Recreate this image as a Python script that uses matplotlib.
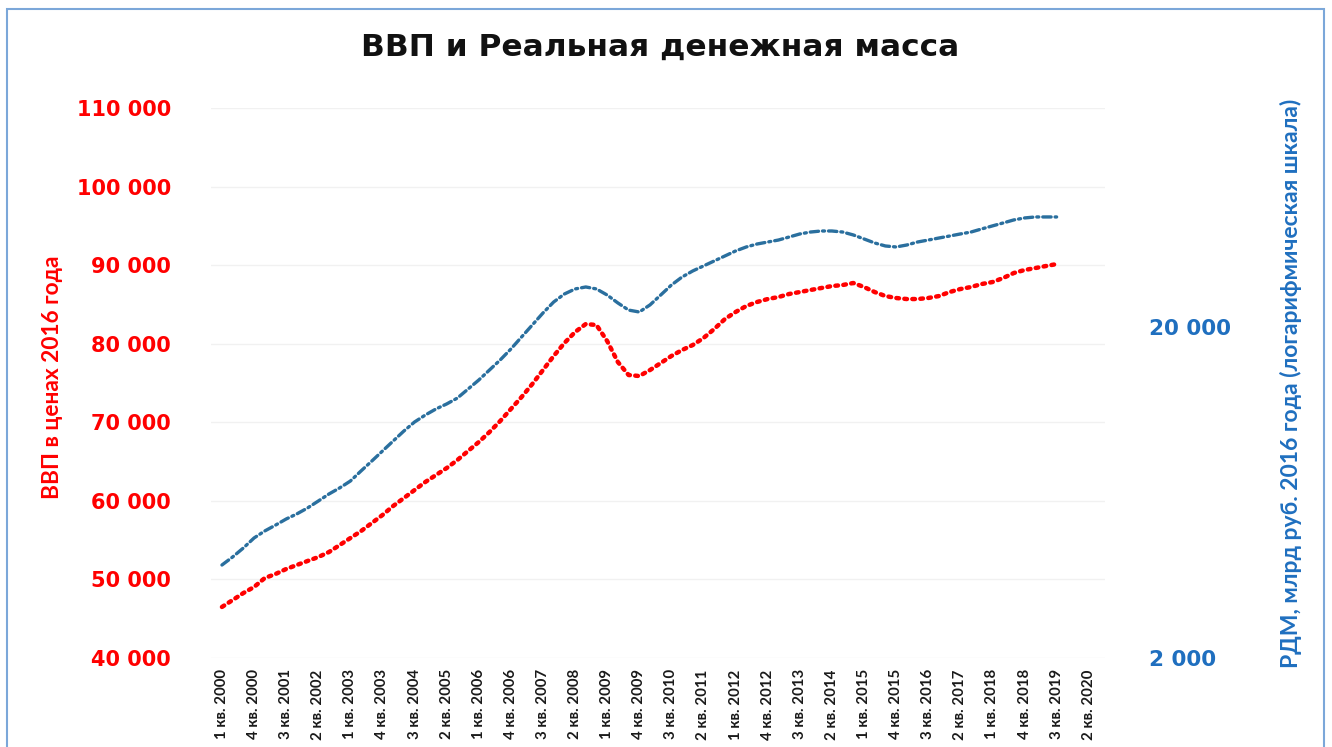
import numpy as np
import matplotlib.pyplot as plt
from matplotlib.patches import Rectangle
from matplotlib.ticker import FixedLocator, FuncFormatter, NullLocator

# Кварталы: 1 кв. 2000 ... 2 кв. 2020
quarters = [f"{q} кв. {y}" for y in range(2000, 2021) for q in range(1, 5)][:82]

# ВВП в ценах 2016 года, 1 кв. 2000 - 3 кв. 2019
gdp = [46500, 47380, 48270, 49040, 50180, 50690, 51330, 51840, 52350, 52850,
       53490, 54380, 55270, 56160, 57180, 58200, 59350, 60360, 61380, 62400,
       63290, 64180, 65200, 66350, 67490, 68760, 70160, 71690, 73220, 74870,
       76650, 78440, 80090, 81490, 82510, 82380, 80340, 77670, 76020, 75890,
       76650, 77540, 78440, 79200, 79840, 80730, 81870, 83140, 84040, 84800,
       85310, 85690, 85940, 86330, 86580, 86840, 87090, 87340, 87470, 87730,
       87220, 86580, 86070, 85820, 85690, 85690, 85820, 86070, 86580, 86960,
       87220, 87600, 87850, 88360, 89000, 89380, 89630, 89890, 90140]

# Реальная денежная масса, млрд руб. 2016 года
rdm = [3820, 4040, 4300, 4610, 4840, 5040, 5260, 5450, 5680, 5960,
       6260, 6530, 6850, 7350, 7870, 8440, 9050, 9700, 10330, 10840,
       11310, 11710, 12200, 12990, 13830, 14830, 15900, 17160, 18660, 20280,
       22050, 23800, 25160, 26060, 26420, 26060, 24980, 23640, 22500, 22200,
       23320, 24980, 26780, 28320, 29540, 30580, 31660, 32780, 33940, 34900,
       35620, 36120, 36620, 37400, 38200, 38720, 39000, 39000, 38720, 37940,
       36900, 35880, 35140, 34900, 35380, 36120, 36620, 37140, 37660, 38200,
       38720, 39560, 40400, 41240, 42120, 42700, 43000, 43000, 43000]

RED = "#FF0000"
BLUE = "#1F6FBF"
LINE_BLUE = "#2A6F9E"


def spaced(v, pos=None):
    return f"{int(round(v)):,}".replace(",", " ")


fig = plt.figure(figsize=(13.32, 7.47), dpi=100)
ax = fig.add_axes([0.1586, 0.1191, 0.6708, 0.7363])
ax2 = ax.twinx()

x = np.arange(len(gdp))
ax.plot(x, gdp, color=RED, lw=3.2, linestyle=(0, (0.6, 1.2)),
        dash_capstyle="round", zorder=3)
ax2.plot(x, rdm, color=LINE_BLUE, lw=2.4, linestyle=(0, (2.5, 1.2, 0.6, 1.2)),
         dash_capstyle="round", zorder=3)

ax.set_xlim(-1, 82.5)
ax.set_ylim(40000, 110000)
ax.set_yticks(np.arange(40000, 110001, 10000))
ax.yaxis.set_major_formatter(FuncFormatter(spaced))
ax.set_xticks(np.arange(0, len(quarters), 3))
ax.set_xticklabels(quarters[::3], rotation=90, fontsize=10.8,
                   fontweight="bold", family="Lato", color="#1a1a1a")
for lbl in ax.get_yticklabels():
    lbl.set_family("DejaVu Sans")
    lbl.set_fontweight("bold")
    lbl.set_fontsize(15)
    lbl.set_color(RED)
ax.tick_params(axis="both", length=0)
ax.tick_params(axis="y", pad=29)
ax.tick_params(axis="x", pad=8)
ax.grid(axis="y", color="#f1f1f1", lw=1)
ax.set_axisbelow(True)

ax2.set_yscale("log")
ax2.set_ylim(2000, 91740)
ax2.yaxis.set_major_locator(FixedLocator([2000, 20000]))
ax2.yaxis.set_minor_locator(NullLocator())
ax2.yaxis.set_major_formatter(FuncFormatter(spaced))
for lbl in ax2.get_yticklabels():
    lbl.set_family("DejaVu Sans")
    lbl.set_fontweight("bold")
    lbl.set_fontsize(15.5)
    lbl.set_color(BLUE)
ax2.tick_params(axis="y", length=0, pad=32)

for a in (ax, ax2):
    for s in a.spines.values():
        s.set_visible(False)

ax.set_ylabel("ВВП в ценах 2016 года", color=RED, fontsize=16.3,
              fontweight="bold", family="Lato")
ax.yaxis.set_label_coords(-0.166, 0.51)
ax2.set_ylabel("РДМ, млрд руб. 2016 года (логарифмическая шкала)", color=BLUE,
               fontsize=16.5, fontweight="bold", family="Lato", rotation=90)
ax2.yaxis.set_label_coords(1.196, 0.5)

fig.text(0.4955, 0.937, "ВВП и Реальная денежная масса", ha="center",
         va="center", fontsize=22.5, fontweight="bold", family="DejaVu Sans",
         color="#111111")

# рамка рисунка
fig.patches.append(Rectangle((0.005, -0.01), 0.989, 0.998, transform=fig.transFigure,
                             fill=False, edgecolor="#7BA7D9", lw=1.5))

fig.savefig("out.png", dpi=100)
